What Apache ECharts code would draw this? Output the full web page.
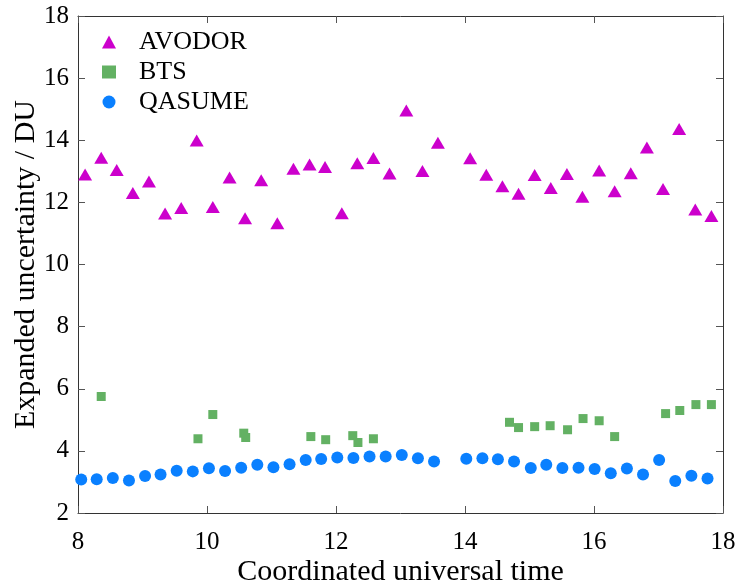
<!DOCTYPE html>
<html>
<head>
<meta charset="utf-8">
<script src="https://cdn.jsdelivr.net/npm/echarts@6/dist/echarts.min.js"></script>
<style>
  html, body { margin: 0; padding: 0; background: #fff; }
  #chart { width: 739px; height: 584px; }
</style>
</head>
<body>
<div id="chart"></div>
<script>
// AVODOR (triangles)
const avodorTime = [8.11, 8.36, 8.60, 8.85, 9.10, 9.35, 9.60, 9.84, 10.09, 10.35, 10.59, 10.84, 11.09,
  11.34, 11.59, 11.83, 12.09, 12.33, 12.58, 12.83, 13.09, 13.34, 13.58, 14.08, 14.33, 14.58, 14.83,
  15.08, 15.33, 15.58, 15.82, 16.08, 16.32, 16.57, 16.82, 17.07, 17.32, 17.57, 17.82];
const avodorU = [12.90, 13.44, 13.04, 12.30, 12.67, 11.64, 11.82, 13.99, 11.85, 12.80, 11.49, 12.71, 11.33,
  13.08, 13.22, 13.14, 11.65, 13.26, 13.43, 12.93, 14.96, 13.01, 13.92, 13.42, 12.89, 12.52, 12.28,
  12.88, 12.46, 12.91, 12.18, 13.03, 12.36, 12.94, 13.77, 12.43, 14.36, 11.77, 11.56];

// BTS (squares)
const btsTime = [8.36, 9.86, 10.09, 10.57, 10.60, 11.61, 11.84, 12.26, 12.34, 12.58,
  14.69, 14.83, 15.08, 15.32, 15.59, 15.83, 16.08, 16.32, 17.11, 17.33, 17.58, 17.82];
const btsU = [5.75, 4.39, 5.17, 4.57, 4.43, 4.46, 4.36, 4.49, 4.27, 4.39,
  4.92, 4.75, 4.78, 4.81, 4.68, 5.04, 4.97, 4.46, 5.20, 5.30, 5.49, 5.49];

// QASUME (circles)
const qasumeTime = [8.05, 8.29, 8.54, 8.79, 9.04, 9.28, 9.53, 9.78, 10.03, 10.28, 10.53, 10.78, 11.03,
  11.28, 11.53, 11.77, 12.02, 12.27, 12.52, 12.77, 13.02, 13.27, 13.52, 14.02, 14.27, 14.51, 14.76,
  15.02, 15.26, 15.51, 15.76, 16.01, 16.26, 16.51, 16.76, 17.01, 17.26, 17.51, 17.76];
const qasumeU = [3.08, 3.09, 3.13, 3.05, 3.19, 3.24, 3.36, 3.34, 3.44, 3.35, 3.46, 3.55, 3.47,
  3.57, 3.71, 3.74, 3.79, 3.77, 3.82, 3.82, 3.87, 3.76, 3.66, 3.75, 3.76, 3.73, 3.66,
  3.45, 3.55, 3.45, 3.46, 3.42, 3.28, 3.43, 3.24, 3.71, 3.03, 3.20, 3.11];

const zip = (xs, ys) => xs.map((x, i) => [x, ys[i]]);

const font = 'Liberation Serif';
const axisColor = '#333';

const myechart = echarts.init(document.getElementById('chart'));
// 上边和右边的框线（只画刻度，不显示文字）
const hiddenAxis = {
  axisLine: { show: true, lineStyle: { color: axisColor, width: 1 } },
  axisTick: { show: true, inside: true, length: 7, lineStyle: { color: '#555' } },
  axisLabel: { show: false },
  splitLine: { show: false }
};
var option = {
  animation: false,
  grid: { left: 78, top: 16, right: 16, bottom: 71, outerBoundsMode: 'none', containLabel: false },
  legend: {
    orient: 'vertical',
    left: 97,
    top: 24,
    itemWidth: 14,
    itemHeight: 13,
    itemGap: 4,
    textStyle: { fontFamily: font, fontSize: 26, color: '#000', lineHeight: 26, padding: [0, 0, 0, 18] },
    data: ['AVODOR', 'BTS', 'QASUME']
  },
  xAxis: [{
    type: 'value',
    min: 8, max: 18, interval: 2,
    name: 'Coordinated universal time',
    nameLocation: 'middle',
    nameGap: 44,
    nameMoveOverlap: false,
    nameTextStyle: { fontFamily: font, fontSize: 30, color: '#000' },
    axisLine: { show: true, lineStyle: { color: axisColor, width: 1 } },
    axisTick: { show: true, inside: true, length: 7, lineStyle: { color: '#555' } },
    axisLabel: { fontFamily: font, fontSize: 25, color: '#000', margin: 17 },
    splitLine: { show: false }
  }, Object.assign({}, hiddenAxis, { type: 'value', position: 'top', min: 8, max: 18, interval: 2 })],
  yAxis: [{
    type: 'value',
    min: 2, max: 18, interval: 2,
    name: 'Expanded uncertainty / DU',
    nameLocation: 'middle',
    nameGap: 37,
    nameMoveOverlap: false,
    nameTextStyle: { fontFamily: font, fontSize: 30, color: '#000' },
    axisLine: { show: true, lineStyle: { color: axisColor, width: 1 } },
    axisTick: { show: true, inside: true, length: 7, lineStyle: { color: '#555' } },
    axisLabel: { fontFamily: font, fontSize: 25, color: '#000', margin: 9 },
    splitLine: { show: false }
  }, Object.assign({}, hiddenAxis, { type: 'value', position: 'right', min: 2, max: 18, interval: 2 })],
  series: [
    {
      name: 'AVODOR',
      type: 'scatter',
      symbol: 'triangle',
      symbolSize: [14, 12],
      itemStyle: { color: '#cc00cc', opacity: 1 },
      data: zip(avodorTime, avodorU),
      z: 3
    },
    {
      name: 'BTS',
      type: 'scatter',
      symbol: 'rect',
      symbolSize: 9,
      itemStyle: { color: '#63b163', opacity: 1 },
      data: zip(btsTime, btsU),
      z: 2
    },
    {
      name: 'QASUME',
      type: 'scatter',
      symbol: 'circle',
      symbolSize: 12,
      itemStyle: { color: '#0a80ff', opacity: 1 },
      data: zip(qasumeTime, qasumeU),
      z: 1
    }
  ]
};
myechart.setOption(option);
</script>
</body>
</html>
